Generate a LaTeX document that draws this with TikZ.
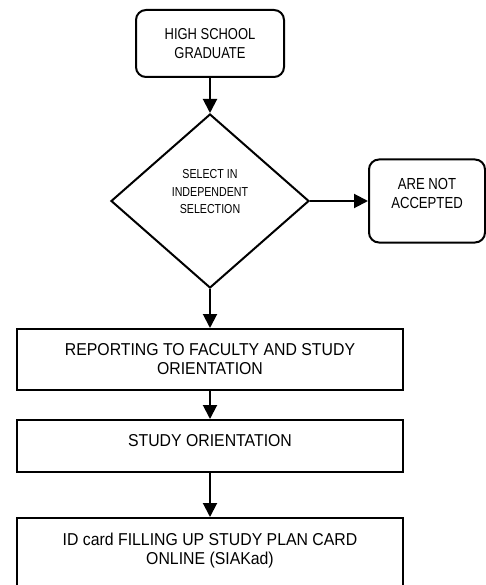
\documentclass[tikz,border=0pt]{standalone}
\usepackage{fontspec}
\setmainfont{Liberation Sans}
\newfontfamily\narrowfont{Liberation Sans}[FakeStretch=0.82]
\newfontfamily\boxfont{Liberation Sans}[FakeStretch=0.92]
\usetikzlibrary{shapes.geometric,arrows.meta}

\begin{document}
\begin{tikzpicture}[x=1pt, y=1pt,
                    start/.style = {draw, rounded corners=10pt, line width=2pt, align=center, inner sep=0pt, font=\narrowfont\fontsize{15.8}{19}\selectfont},
                    decide/.style = {draw, diamond, line width=2pt, align=center, inner sep=0pt, minimum width=198pt, minimum height=174pt, font=\narrowfont\fontsize{13}{17.3}\selectfont},
                    proc/.style = {draw, rectangle, line width=2pt, align=center, inner sep=0pt, minimum width=386pt, font=\boxfont\fontsize{17.2}{19}\selectfont},
                    flow/.style = {line width=2pt, -{Triangle[length=14pt, width=14pt]}}]
                        \useasboundingbox (0,0) rectangle (486,-585);

                        \node[start, minimum width=148pt, minimum height=67pt] (grad) at (210,-43.5) {HIGH SCHOOL\\GRADUATE};
                        \node[decide, text depth=19pt] (sel) at (210,-201) {SELECT IN\\INDEPENDENT\\SELECTION};
                        \node[start, minimum width=116pt, minimum height=83pt, text depth=15pt, font=\narrowfont\fontsize{16}{18.5}\selectfont] (rej) at (427,-201) {ARE NOT\\ACCEPTED};
                        \node[proc, minimum height=61pt] (rep) at (210,-359.5) {REPORTING TO FACULTY AND STUDY\\ORIENTATION};
                        \node[proc, minimum height=52pt, text depth=11pt] (ori) at (210,-446) {STUDY ORIENTATION};
                        \node[proc, anchor=north, minimum height=80pt, text depth=18pt] (krs) at (210,-517) {ID card FILLING UP STUDY PLAN CARD\\ONLINE (SIAKad)};

                        \draw[flow] (grad) -- (sel);
                        \draw[flow] (sel) -- (rej);
                        \draw[flow] (sel) -- (rep);
                        \draw[flow] (rep) -- (ori);
                        \draw[flow] (ori) -- (krs);
                    \end{tikzpicture}
\end{document}
